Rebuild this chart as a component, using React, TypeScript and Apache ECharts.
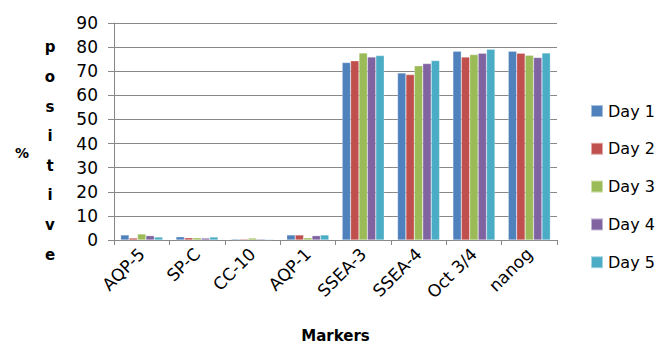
import React, { useEffect, useRef } from "react";
import * as echarts from "echarts";

const categories = ["AQP-5", "SP-C", "CC-10", "AQP-1", "SSEA-3", "SSEA-4", "Oct 3/4", "nanog"];
const seriesNames = ["Day 1", "Day 2", "Day 3", "Day 4", "Day 5"];
const day1 = [2.1, 1.3, 0.4, 2.1, 73.6, 69.3, 78.3, 78.3];
const day2 = [0.8, 0.9, 0.4, 2.1, 74.3, 68.6, 75.9, 77.5];
const day3 = [2.5, 0.9, 0.8, 0.9, 77.6, 72.3, 76.9, 76.6];
const day4 = [1.8, 0.8, 0.4, 1.8, 75.9, 73.2, 77.5, 75.7];
const day5 = [1.2, 1.2, 0.3, 2.1, 76.5, 74.4, 79.1, 77.6];
const seriesValues = [day1, day2, day3, day4, day5];
const colors = ["#4F81BD", "#C0504D", "#9BBB59", "#8064A2", "#4BACC6"];

const FONT = "DejaVu Sans";

export default function App() {
  const ref = useRef<HTMLDivElement>(null);
  useEffect(() => {
    if (!ref.current) return;
    const chart = echarts.init(ref.current, undefined, { renderer: "svg" });
    chart.setOption({
      animation: false,
      textStyle: { fontFamily: FONT },
      grid: { left: 114, right: 113, top: 23, bottom: 105, containLabel: false, outerBoundsMode: "none" },
      legend: {
        orient: "vertical",
        left: 585,
        top: 98,
        itemWidth: 12,
        itemHeight: 12,
        itemGap: 21.8,
        icon: "rect",
        textStyle: { fontSize: 16, color: "#000", fontFamily: FONT },
        data: seriesNames,
      },
      xAxis: {
        type: "category",
        data: categories,
        axisLine: { lineStyle: { color: "#888" } },
        axisTick: { show: true, length: 5, lineStyle: { color: "#888" } },
        axisLabel: { rotate: 45, fontSize: 17, color: "#000", margin: 11, fontFamily: FONT },
        name: "Markers",
        nameLocation: "middle",
        nameGap: 88,
        nameTextStyle: { fontSize: 15, fontWeight: "bold", color: "#000", fontFamily: FONT },
      },
      yAxis: {
        type: "value",
        min: 0,
        max: 90,
        interval: 10,
        axisLine: { show: true, lineStyle: { color: "#888" } },
        axisTick: { show: true, length: 6, lineStyle: { color: "#888" } },
        axisLabel: { fontSize: 17, color: "#000", margin: 16, fontFamily: FONT },
        splitLine: { lineStyle: { color: "#888", width: 1 } },
      },
      graphic: [
        {
          type: "text",
          x: 22,
          y: 153,
          style: {
            text: "%",
            fontSize: 14,
            fontWeight: "bold",
            fill: "#000",
            align: "center",
            verticalAlign: "middle",
            fontFamily: FONT,
          },
        },
        {
          type: "text",
          x: 50,
          y: 151,
          style: {
            text: "p\no\ns\ni\nt\ni\nv\ne",
            fontSize: 15,
            fontWeight: "bold",
            fill: "#000",
            lineHeight: 29.6,
            align: "center",
            verticalAlign: "middle",
            fontFamily: FONT,
          },
        },
      ],
      series: seriesNames.map((name, i) => ({
        name,
        type: "bar",
        data: seriesValues[i],
        barGap: "0%",
        barCategoryGap: "24%",
        itemStyle: { color: colors[i], borderColor: "rgba(255,255,255,0.5)", borderWidth: 0.5 },
      })),
    });
    return () => chart.dispose();
  }, []);
  return (
    <div style={{ position: "fixed", left: 0, top: 0, width: 670, height: 345, overflow: "hidden", background: "#fff" }}>
      <div ref={ref} style={{ width: 670, height: 345 }} />
    </div>
  );
}
